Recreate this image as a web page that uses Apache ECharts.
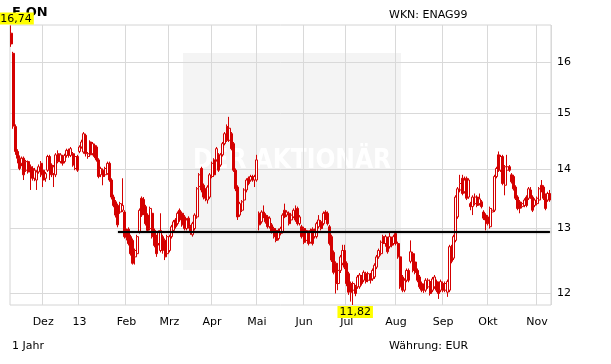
<!DOCTYPE html>
<html>
<head>
<meta charset="utf-8">
<script src="https://cdn.jsdelivr.net/npm/echarts@6/dist/echarts.min.js"></script>
<style>html,body{margin:0;padding:0;background:#fff}#c{width:611px;height:364px}</style>
</head>
<body>
<div id="c"></div>
<script>
// [open, close, low, high] per trading day, 12.11.2012 - 11.11.2013
const candles = [
[16.58,16.36,16.30,16.74],[16.17,14.77,14.72,16.20],[14.76,14.31,14.25,14.80],[14.31,14.19,14.10,14.35],
[14.19,14.01,13.98,14.24],[14.10,14.19,14.05,14.22],[14.19,13.90,13.81,14.22],[13.98,14.13,13.95,14.16],
[14.13,13.95,13.92,14.15],[14.04,13.95,13.64,14.08],[14.01,13.84,13.80,14.05],[13.84,13.98,13.79,14.02],
[13.81,13.95,13.64,13.98],[13.95,14.04,13.92,14.08],[14.10,13.90,13.86,14.14],[13.98,13.81,13.69,14.01],
[13.84,13.92,13.78,13.95],[13.98,14.22,13.95,14.25],[14.22,13.98,13.81,14.25],[14.07,13.90,13.86,14.10],
[13.92,14.04,13.69,14.07],[13.90,14.25,13.86,14.28],[14.27,14.13,14.10,14.33],[14.13,14.25,14.10,14.28],
[14.22,14.10,14.06,14.25],[14.13,14.24,14.10,14.27],[14.24,14.33,14.20,14.36],[14.33,14.24,14.20,14.36],
[14.24,14.36,14.21,14.39],[14.27,14.07,14.04,14.30],[14.01,14.22,13.98,14.25],[14.22,13.98,13.95,14.25],
[14.31,14.39,14.28,14.42],[14.39,14.48,14.36,14.52],[14.30,14.63,14.27,14.66],[14.60,14.27,14.22,14.63],
[14.22,14.27,14.18,14.30],[14.48,14.25,14.22,14.51],[14.27,14.45,14.24,14.48],[14.42,14.22,14.19,14.45],
[14.39,14.16,14.13,14.42],[14.16,13.87,13.84,14.19],[13.90,14.01,13.86,14.04],[13.98,13.87,13.72,14.01],
[13.90,14.01,13.87,14.04],[13.92,14.10,13.90,14.13],[14.10,13.81,13.78,14.13],[13.81,13.52,13.48,13.84],
[13.52,13.38,13.35,13.56],[13.44,13.22,13.18,13.47],[13.38,13.06,13.02,13.41],[13.27,13.41,13.24,13.44],
[13.30,13.38,13.27,13.84],[13.27,12.87,12.84,13.30],[12.95,12.86,12.81,13.00],[12.99,12.76,12.73,13.02],
[12.87,12.60,12.57,12.90],[12.81,12.45,12.43,12.84],[12.55,12.65,12.43,12.68],[12.60,12.87,12.57,12.90],
[12.95,13.30,12.92,13.33],[13.50,13.22,13.19,13.53],[13.48,13.27,13.22,13.52],[13.36,13.08,13.05,13.39],
[13.22,12.97,12.94,13.25],[13.00,13.33,12.97,13.36],[13.25,12.87,12.84,13.28],[12.97,12.73,12.70,13.00],
[12.87,12.60,12.55,12.90],[12.76,12.94,12.73,12.97],[12.65,12.97,12.62,13.25],[12.87,12.65,12.60,12.90],
[12.81,12.55,12.50,12.84],[12.60,12.87,12.57,12.90],[12.65,12.87,12.62,12.90],[12.87,13.03,12.84,13.06],
[12.97,13.11,12.94,13.14],[13.14,13.03,13.00,13.17],[13.08,13.25,13.05,13.28],[13.30,13.14,13.11,13.33],
[13.25,13.06,13.03,13.28],[13.19,13.00,12.97,13.22],[13.00,13.14,12.97,13.17],[13.17,13.03,13.00,13.20],
[13.03,12.95,12.90,13.06],[12.90,13.08,12.87,13.11],[13.00,13.22,12.97,13.25],[13.19,13.66,13.16,13.69],
[13.70,13.90,13.66,13.93],[14.01,13.64,13.60,14.04],[13.72,13.52,13.48,13.75],[13.64,13.50,13.45,13.67],
[13.47,13.69,13.41,13.72],[13.52,13.90,13.49,13.93],[13.87,14.10,13.84,14.13],[14.16,13.90,13.87,14.19],
[14.16,14.36,14.13,14.39],[14.25,13.98,13.95,14.28],[14.07,14.25,14.04,14.28],[14.25,14.45,14.22,14.48],
[14.45,14.63,14.42,14.66],[14.76,14.51,14.48,14.80],[14.51,14.73,14.48,14.94],[14.63,14.36,14.33,14.66],
[14.45,13.98,13.95,14.48],[13.98,13.66,13.62,14.01],[13.69,13.19,13.14,13.72],[13.22,13.41,13.19,13.44],
[13.30,13.44,13.27,13.47],[13.47,13.64,13.44,13.67],[13.64,13.81,13.60,13.84],[13.84,13.75,13.72,13.87],
[13.81,13.87,13.78,13.90],[13.87,13.81,13.78,13.90],[13.81,13.87,13.69,13.90],[13.81,14.16,13.78,14.25],
[13.25,13.06,12.97,13.28],[13.11,13.27,13.08,13.30],[13.27,13.19,13.17,13.38],[13.22,13.11,13.08,13.25],
[13.19,13.03,13.00,13.22],[13.03,13.17,13.00,13.20],[13.06,12.95,12.92,13.09],[13.00,12.87,12.84,13.03],
[12.97,12.81,12.78,13.00],[12.84,12.97,12.81,13.00],[12.92,13.00,12.89,13.03],[12.95,13.22,12.92,13.25],
[13.30,13.19,13.17,13.41],[13.22,13.27,13.19,13.30],[13.25,13.08,13.05,13.28],[13.14,13.22,13.11,13.25],
[13.19,13.30,13.17,13.33],[13.27,13.14,13.11,13.38],[13.33,13.08,13.05,13.36],[13.08,13.19,13.05,13.22],
[13.03,12.87,12.84,13.06],[13.00,12.78,12.75,13.03],[12.81,12.97,12.78,13.00],[12.94,12.76,12.73,12.97],
[12.78,12.97,12.76,13.00],[12.99,12.76,12.73,13.02],[12.87,12.97,12.84,13.00],[12.87,13.08,12.84,13.11],
[13.03,13.14,13.00,13.22],[13.11,13.00,12.97,13.14],[13.08,13.25,13.05,13.28],[13.27,13.17,13.14,13.30],
[13.25,13.08,13.05,13.28],[13.03,12.76,12.73,13.06],[12.87,12.50,12.47,12.90],[12.62,12.31,12.28,12.65],
[12.45,12.14,11.99,12.48],[12.14,12.34,12.04,12.40],[12.34,12.55,12.30,12.58],[12.45,12.65,12.42,12.74],
[12.65,12.39,12.36,12.74],[12.45,12.14,12.10,12.48],[12.29,12.01,11.97,12.32],[12.14,12.01,11.87,12.17],
[12.04,12.14,11.82,12.17],[12.09,11.99,11.95,12.12],[12.09,12.24,12.06,12.27],[12.09,12.27,12.06,12.30],
[12.24,12.14,12.11,12.27],[12.19,12.31,12.16,12.34],[12.29,12.17,12.14,12.32],[12.19,12.29,12.16,12.32],
[12.27,12.19,12.14,12.30],[12.21,12.34,12.18,12.37],[12.24,12.42,12.21,12.45],[12.39,12.55,12.36,12.58],
[12.55,12.65,12.52,12.68],[12.60,12.78,12.57,12.81],[12.87,12.76,12.73,12.90],[12.76,12.87,12.71,12.90],
[12.84,12.63,12.60,12.87],[12.71,12.87,12.68,12.95],[12.84,12.73,12.70,12.87],[12.76,12.87,12.73,12.90],
[12.92,12.76,12.73,12.95],[12.76,12.55,12.52,12.79],[12.55,12.09,12.06,12.58],[12.24,12.04,12.01,12.27],
[12.04,12.19,12.01,12.22],[12.19,12.34,12.16,12.37],[12.34,12.19,12.16,12.37],[12.48,12.63,12.45,12.81],
[12.60,12.34,12.31,12.63],[12.47,12.31,12.28,12.50],[12.34,12.19,12.16,12.37],[12.24,12.09,12.06,12.27],
[12.14,12.04,12.01,12.17],[12.11,12.04,12.00,12.14],[12.04,12.19,12.01,12.22],[12.09,12.19,12.06,12.22],
[12.17,11.99,11.96,12.20],[12.04,12.21,12.01,12.24],[12.09,12.24,12.06,12.27],[12.17,12.04,12.01,12.20],
[12.14,11.99,11.91,12.17],[12.04,12.17,12.01,12.20],[12.14,12.04,12.01,12.17],[12.04,12.14,12.01,12.17],
[12.01,12.17,11.94,12.20],[12.04,12.71,12.01,12.74],[12.71,12.48,12.45,12.74],[12.53,12.87,12.50,12.90],
[12.81,13.52,12.78,13.55],[13.19,13.66,13.16,13.69],[13.64,13.75,13.60,13.90],[13.84,13.58,13.55,13.90],
[13.61,13.81,13.58,13.87],[13.84,13.50,13.47,13.87],[13.52,13.81,13.49,13.84],[13.41,13.36,13.30,13.44],
[13.36,13.52,13.22,13.55],[13.41,13.52,13.38,13.58],[13.52,13.38,13.35,13.55],[13.41,13.49,13.38,13.58],
[13.44,13.36,13.33,13.47],[13.27,13.17,13.14,13.30],[13.22,13.14,12.97,13.25],[13.19,13.08,13.05,13.22],
[13.03,13.33,13.00,13.36],[13.27,13.30,13.24,13.33],[13.30,13.87,13.27,13.90],[13.87,14.01,13.84,14.04],
[14.25,13.98,13.95,14.31],[13.98,14.22,13.95,14.25],[14.22,13.75,13.72,14.25],[13.72,14.04,13.55,14.07],
[13.98,14.04,13.95,14.25],[14.04,13.98,13.95,14.07],[13.90,13.78,13.75,13.93],[13.87,13.66,13.63,13.90],
[13.69,13.50,13.47,13.72],[13.52,13.33,13.30,13.55],[13.44,13.33,13.25,13.47],[13.36,13.41,13.33,13.44],
[13.38,13.47,13.35,13.50],[13.52,13.38,13.35,13.55],[13.50,13.66,13.47,13.69],[13.64,13.52,13.49,13.69],
[13.52,13.30,13.27,13.55],[13.38,13.47,13.35,13.50],[13.41,13.50,13.38,13.53],[13.47,13.66,13.44,13.69],
[13.72,13.64,13.60,13.81],[13.69,13.50,13.47,13.72],[13.55,13.33,13.30,13.58],[13.47,13.58,13.44,13.61],
[13.58,13.47,13.44,13.64]
];
const monthLabels = ['Dez','13','Feb','Mrz','Apr','Mai','Jun','Jul','Aug','Sep','Okt','Nov'];
const monthStarts = [15,32,54,74,94,115,137,157,180,202,223,246];
const yTickValues = [12,13,14,15,16];
const supportLevel = 12.95;
const supportStart = 50;

const FONT = 'DejaVu Sans';
const RED = '#d40000';
const cats = candles.map((_, i) => 'd' + i);
const labelAt = {};
monthStarts.forEach((s, k) => { labelAt[s] = monthLabels[k]; });
const isStart = (i) => labelAt[i] !== undefined;
const lnData = candles.map(r => r.map(Math.log));
const fmt = v => Math.exp(v).toFixed(2).replace('.', ',');

const chart = echarts.init(document.getElementById('c'), null, {renderer: 'canvas'});
chart.setOption({
  animation: false,
  backgroundColor: '#fff',
  title: [
    {text: 'E.ON', left: 12, top: 6, padding: 0, z: 0, textStyle: {fontSize: 13, fontWeight: 'bold', color: '#000', fontFamily: FONT}},
    {text: 'WKN: ENAG99', left: 389, top: 10, padding: 0, z: 0, textStyle: {fontSize: 11, fontWeight: 'normal', color: '#000', fontFamily: FONT}},
    {text: '1 Jahr', left: 12, top: 341, padding: 0, z: 0, textStyle: {fontSize: 11, fontWeight: 'normal', color: '#000', fontFamily: FONT}},
    {text: 'Währung: EUR', left: 389, top: 341, padding: 0, z: 0, textStyle: {fontSize: 11, fontWeight: 'normal', color: '#000', fontFamily: FONT}}
  ],
  graphic: [
    {type: 'rect', z: -1, silent: true, shape: {x: 183, y: 53, width: 218, height: 217}, style: {fill: '#f4f4f4'}},
    {type: 'text', z: -1, silent: true, x: 292, y: 161, style: {text: 'DER AKTIONÄR', fill: '#ffffff', font: "bold 26px 'Liberation Sans Narrow', 'DejaVu Sans Condensed', sans-serif", align: 'center', verticalAlign: 'middle'}}
  ],
  grid: {left: 10, right: 60, top: 25, bottom: 59, show: true, borderColor: '#d4d4d4', borderWidth: 1, backgroundColor: 'transparent'},
  xAxis: {
    type: 'category', data: cats, boundaryGap: true,
    axisLine: {show: false}, axisTick: {show: false},
    axisLabel: {interval: (i) => isStart(i), formatter: (v, i) => labelAt[i] || '', margin: 12, color: '#000', fontSize: 11, fontFamily: FONT},
    splitLine: {show: true, interval: (i) => isStart(i), lineStyle: {color: '#d9d9d9', width: 1}}
  },
  yAxis: {
    type: 'value', position: 'right', scale: true,
    min: Math.log(11.82), max: Math.log(16.75),
    axisLine: {show: false},
    axisTick: {show: false, customValues: yTickValues.map(Math.log)},
    axisLabel: {customValues: yTickValues.map(Math.log), formatter: v => String(Math.round(Math.exp(v))), margin: 6, color: '#000', fontSize: 11, fontFamily: FONT},
    splitLine: {show: true, lineStyle: {color: '#d9d9d9', width: 1}}
  },
  series: [{
    type: 'candlestick', data: lnData, barWidth: 2.5, z: 2,
    itemStyle: {color: '#ffffff', color0: RED, borderColor: RED, borderColor0: RED, borderWidth: 1},
    markLine: {
      silent: true, symbol: ['none', 'none'], animation: false,
      label: {show: false},
      lineStyle: {color: '#000', width: 2, type: 'solid', shadowColor: 'rgba(0,0,0,0.45)', shadowBlur: 2},
      data: [[{coord: [cats[supportStart], Math.log(supportLevel)]}, {coord: [cats[cats.length - 1], Math.log(supportLevel)]}]]
    },
    markPoint: {
      symbol: 'rect', symbolSize: 0, silent: true, animation: false,
      label: {show: true, formatter: p => fmt(p.value), backgroundColor: '#ffff00', color: '#000', fontSize: 11, fontFamily: FONT, padding: [1, 2, 0, 2]},
      data: [
        {type: 'max', valueDim: 'highest', label: {position: 'top', distance: 1, offset: [5, 0]}},
        {type: 'min', valueDim: 'lowest', label: {position: 'bottom', distance: 1, offset: [2, 0]}}
      ]
    }
  }]
});
</script>
</body>
</html>
